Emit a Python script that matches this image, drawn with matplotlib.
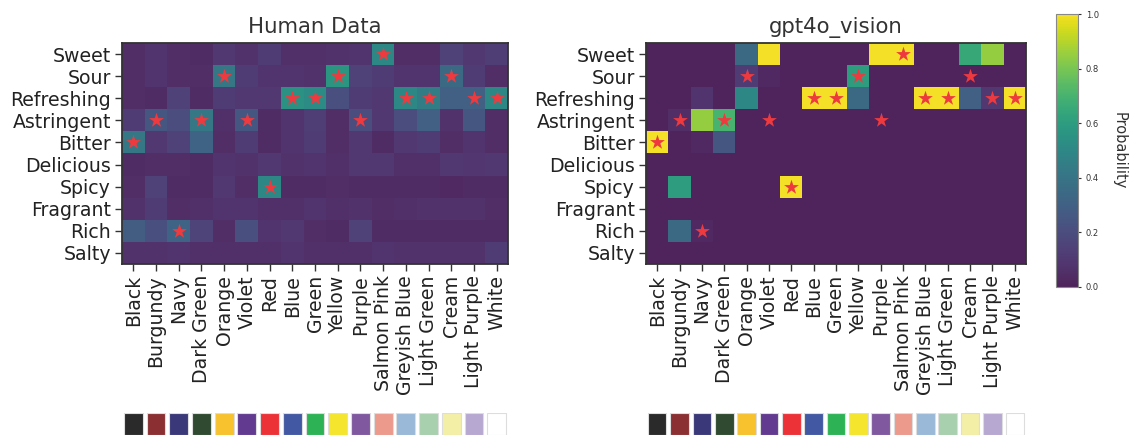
import numpy as np
import matplotlib.pyplot as plt
from matplotlib.colors import ListedColormap

plt.rcParams['font.family'] = ['DejaVu Sans']

# ---- data ----
tastes = ['Sweet', 'Sour', 'Refreshing', 'Astringent', 'Bitter',
          'Delicious', 'Spicy', 'Fragrant', 'Rich', 'Salty']
colors = ['Black', 'Burgundy', 'Navy', 'Dark Green', 'Orange', 'Violet', 'Red',
          'Blue', 'Green', 'Yellow', 'Purple', 'Salmon Pink', 'Greyish Blue',
          'Light Green', 'Cream', 'Light Purple', 'White']
swatch_hex = ['#2a2a2a', '#8b2f32', '#3a3878', '#2f4a30', '#f7c22e', '#623a8f',
              '#ec3237', '#4258a2', '#2db356', '#f5e62d', '#7f58a0', '#eb9a8c',
              '#9ab9d8', '#a9d0ae', '#f4efa6', '#b7a8d2', '#ffffff']

# human probabilities, rows = tastes, cols = colors
human = np.array([
    [0.05, 0.08, 0.05, 0.04, 0.10, 0.07, 0.12, 0.06, 0.06, 0.07, 0.08, 0.50, 0.05, 0.05, 0.15, 0.10, 0.13],
    [0.05, 0.08, 0.05, 0.05, 0.42, 0.12, 0.08, 0.08, 0.07, 0.57, 0.15, 0.12, 0.08, 0.08, 0.35, 0.12, 0.05],
    [0.05, 0.04, 0.15, 0.04, 0.12, 0.10, 0.10, 0.55, 0.52, 0.22, 0.12, 0.10, 0.50, 0.45, 0.30, 0.30, 0.50],
    [0.12, 0.25, 0.20, 0.42, 0.06, 0.25, 0.04, 0.08, 0.13, 0.05, 0.20, 0.10, 0.20, 0.30, 0.07, 0.25, 0.05],
    [0.42, 0.10, 0.15, 0.32, 0.05, 0.12, 0.04, 0.08, 0.12, 0.05, 0.10, 0.04, 0.10, 0.12, 0.05, 0.08, 0.05],
    [0.04, 0.05, 0.05, 0.04, 0.08, 0.07, 0.10, 0.07, 0.08, 0.06, 0.10, 0.10, 0.06, 0.06, 0.10, 0.09, 0.10],
    [0.05, 0.15, 0.04, 0.04, 0.10, 0.05, 0.50, 0.04, 0.04, 0.05, 0.04, 0.04, 0.04, 0.04, 0.03, 0.04, 0.04],
    [0.07, 0.12, 0.05, 0.06, 0.08, 0.08, 0.06, 0.06, 0.08, 0.06, 0.07, 0.05, 0.06, 0.07, 0.07, 0.07, 0.05],
    [0.28, 0.22, 0.32, 0.16, 0.05, 0.22, 0.08, 0.10, 0.05, 0.04, 0.15, 0.04, 0.04, 0.04, 0.04, 0.04, 0.04],
    [0.07, 0.07, 0.08, 0.06, 0.06, 0.06, 0.06, 0.08, 0.06, 0.06, 0.06, 0.08, 0.07, 0.07, 0.07, 0.07, 0.12],
])

# gpt4o_vision probabilities
gpt = np.array([
    [0.00, 0.00, 0.00, 0.00, 0.35, 1.00, 0.00, 0.00, 0.00, 0.00, 1.00, 1.00, 0.00, 0.00, 0.65, 0.85, 0.00],
    [0.00, 0.00, 0.00, 0.00, 0.12, 0.03, 0.00, 0.00, 0.00, 0.60, 0.00, 0.00, 0.00, 0.00, 0.00, 0.00, 0.00],
    [0.00, 0.00, 0.08, 0.00, 0.50, 0.00, 0.00, 1.00, 1.00, 0.35, 0.00, 0.00, 1.00, 1.00, 0.30, 0.10, 1.00],
    [0.00, 0.05, 0.85, 0.70, 0.00, 0.00, 0.00, 0.00, 0.00, 0.00, 0.00, 0.00, 0.00, 0.00, 0.00, 0.00, 0.00],
    [1.00, 0.00, 0.03, 0.25, 0.00, 0.00, 0.00, 0.00, 0.00, 0.00, 0.00, 0.00, 0.00, 0.00, 0.00, 0.00, 0.00],
    [0.00, 0.00, 0.00, 0.00, 0.00, 0.00, 0.00, 0.00, 0.00, 0.00, 0.00, 0.00, 0.00, 0.00, 0.00, 0.00, 0.00],
    [0.00, 0.60, 0.00, 0.00, 0.00, 0.00, 1.00, 0.00, 0.00, 0.00, 0.00, 0.00, 0.00, 0.00, 0.00, 0.00, 0.00],
    [0.00, 0.00, 0.00, 0.00, 0.00, 0.00, 0.00, 0.00, 0.00, 0.00, 0.00, 0.00, 0.00, 0.00, 0.00, 0.00, 0.00],
    [0.00, 0.35, 0.03, 0.00, 0.00, 0.00, 0.00, 0.00, 0.00, 0.00, 0.00, 0.00, 0.00, 0.00, 0.00, 0.00, 0.00],
    [0.00, 0.00, 0.00, 0.00, 0.00, 0.00, 0.00, 0.00, 0.00, 0.00, 0.00, 0.00, 0.00, 0.00, 0.00, 0.00, 0.00],
])

# stars = most chosen taste by humans for each colour
star_rows = human.argmax(axis=0)

# slightly washed out viridis, like the original export
base = plt.cm.viridis(np.linspace(0, 1, 256))[:, :3]
w = np.linspace(0.35, 0.05, 256)[:, None]
grey = np.array([100, 100, 105]) / 255
cmap = ListedColormap(base * (1 - w) + grey * w)

W, H = 1131, 437
fig = plt.figure(figsize=(W / 100, H / 100), dpi=100)


def px_axes(x0, y0, x1, y1):
    return fig.add_axes([x0 / W, 1 - y1 / H, (x1 - x0) / W, (y1 - y0) / H])


def draw_panel(x0, x1, data, title):
    ax = px_axes(x0, 43, x1, 264)
    im = ax.imshow(data, cmap=cmap, vmin=0, vmax=1, aspect='auto',
                   interpolation='nearest')
    ax.scatter(np.arange(len(colors)), star_rows, marker='*', s=125,
               color='#ee3a3f', linewidths=0, zorder=3)
    ax.set_yticks(range(len(tastes)))
    ax.set_yticklabels(tastes, fontsize=13.6, color='#222222')
    ax.set_xticks(range(len(colors)))
    ax.set_xticklabels(colors, rotation=90, fontsize=13.6, color='#222222')
    ax.tick_params(length=5, width=1, color='#333333', pad=3)
    for s in ax.spines.values():
        s.set_linewidth(1.3)
        s.set_color('#333333')
    ax.set_title(title, fontsize=15.3, color='#333333', pad=7)

    # colour swatches under the axis
    sw = px_axes(x0, 413, x1, 435)
    sw.bar(np.arange(len(colors)), 1, width=0.83, color=swatch_hex,
           edgecolor='#dddddd', linewidth=0.8)
    sw.set_xlim(-0.5, len(colors) - 0.5)
    sw.set_ylim(0, 1)
    sw.axis('off')
    return im


draw_panel(122, 508, human, 'Human Data')
im = draw_panel(646, 1026, gpt, 'gpt4o_vision')

cax = px_axes(1056, 14, 1078, 287)
cb = fig.colorbar(im, cax=cax, ticks=np.arange(0, 1.01, 0.2), format='%.1f')
cb.outline.set_edgecolor('#888888')
cb.ax.tick_params(labelsize=6, length=2, colors='#333333')
cb.set_label('Probability', rotation=270, fontsize=10.5, labelpad=20, color='#333333')

fig.savefig('out.png', dpi=100)
